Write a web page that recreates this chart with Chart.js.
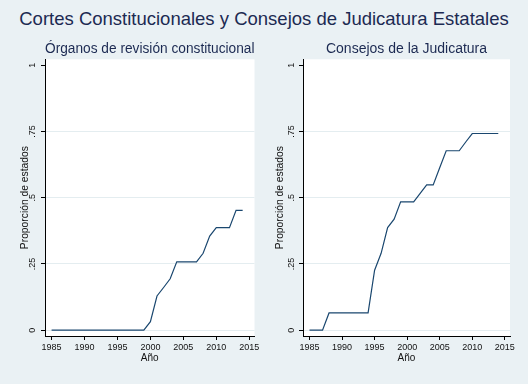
<!DOCTYPE html>
<html>
<head>
<meta charset="utf-8">
<script src="https://cdn.jsdelivr.net/npm/chart.js@4.4.0/dist/chart.umd.min.js"></script>
<style>
  body { margin: 0; background: #eaf1f4; width: 528px; height: 384px; overflow: hidden; position: relative; font-family: 'Liberation Sans', Arial, sans-serif; }
  #title { position: absolute; left: 0; top: 10px; width: 528px; text-align: center; font-size: 18.5px; line-height: 18px; color: #1c2a52; white-space: nowrap; }
  canvas { position: absolute; top: 0; }
</style>
</head>
<body>
<div id="title">Cortes Constitucionales y Consejos de Judicatura Estatales</div>
<canvas id="left" width="264" height="384" style="left:0"></canvas>
<canvas id="right" width="264" height="384" style="left:264px"></canvas>
<script>
const years = [1985, 1986, 1987, 1988, 1989, 1990, 1991, 1992, 1993, 1994,
               1995, 1996, 1997, 1998, 1999, 2000, 2001, 2002, 2003, 2004,
               2005, 2006, 2007, 2008, 2009, 2010, 2011, 2012, 2013, 2014];

// proporcion de estados con organo de revision constitucional
const organos = [0, 0, 0, 0, 0, 0, 0, 0, 0, 0,
                 0, 0, 0, 0, 0, 0.032, 0.129, 0.161, 0.194, 0.258,
                 0.258, 0.258, 0.258, 0.290, 0.355, 0.387, 0.387, 0.387, 0.452, 0.452];

// proporcion de estados con consejo de la judicatura
const consejos = [0, 0, 0, 0.065, 0.065, 0.065, 0.065, 0.065, 0.065, 0.065,
                  0.226, 0.290, 0.387, 0.419, 0.484, 0.484, 0.484, 0.516, 0.548, 0.548,
                  0.613, 0.677, 0.677, 0.677, 0.710, 0.742, 0.742, 0.742, 0.742, 0.742];

const panel_titles = ['Órganos de revisión constitucional', 'Consejos de la Judicatura'];
const x_ticks = [1985, 1990, 1995, 2000, 2005, 2010, 2015];
const y_ticks = [0, 0.25, 0.5, 0.75, 1];
const y_tick_labels = ['0', '.25', '.5', '.75', '1'];
const x_title = 'Año';
const y_title = 'Proporción de estados';

const navy = '#1a476f';
const text_navy = '#1c2a52';
const grid_col = '#e4edf0';
const font = 'Liberation Sans';

// white plot region like stata
const plotBg = {
    id: 'plotBg',
    beforeDraw(chart) {
        const a = chart.chartArea;
        chart.ctx.save();
        chart.ctx.fillStyle = '#ffffff';
        chart.ctx.fillRect(a.left, a.top, a.right - a.left, a.bottom - a.top);
        chart.ctx.restore();
    }
};

function make_panel(id, title, values, axis_w, pad_right, tick_pad, ytitle_pad) {
    const points = years.map((y, i) => ({x: y, y: values[i]}));
    return new Chart(document.getElementById(id), {
        type: 'line',
        data: {
            datasets: [{
                data: points,
                borderColor: navy,
                borderWidth: 1.2,
                pointRadius: 0,
                tension: 0,
                fill: false
            }]
        },
        options: {
            responsive: false,
            animation: false,
            layout: {padding: {top: 0, left: 0, right: pad_right, bottom: 0}},
            plugins: {
                legend: {display: false},
                tooltip: {enabled: false},
                title: {
                    display: true,
                    text: title,
                    fullSize: false,
                    color: text_navy,
                    font: {family: font, size: 14, weight: 'normal'},
                    padding: {top: 41.1, bottom: 1.4}
                }
            },
            scales: {
                x: {
                    type: 'linear',
                    min: 1984,
                    max: 2015.8,
                    afterBuildTicks: s => { s.ticks = x_ticks.map(v => ({value: v})); },
                    afterFit: s => { s.height = 48; },
                    border: {display: true, color: '#000', width: 1},
                    grid: {drawOnChartArea: false, drawTicks: true, tickLength: 4, tickColor: '#000'},
                    ticks: {
                        color: '#111',
                        font: {family: font, size: 9},
                        padding: 2.5,
                        maxRotation: 0,
                        autoSkip: false,
                        callback: v => String(v)
                    },
                    title: {
                        display: true,
                        text: x_title,
                        color: '#111',
                        font: {family: font, size: 10},
                        padding: {top: 0, bottom: 20}
                    }
                },
                y: {
                    type: 'linear',
                    min: -0.022,
                    max: 1.022,
                    afterBuildTicks: s => { s.ticks = y_ticks.map(v => ({value: v})); },
                    afterFit: s => { s.width = axis_w; },
                    border: {display: true, color: '#000', width: 1},
                    grid: {
                        drawOnChartArea: true,
                        drawTicks: true,
                        tickLength: 4,
                        tickColor: '#000',
                        color: c => (c.tick && c.tick.value === 1) ? 'rgba(0,0,0,0)' : grid_col
                    },
                    ticks: {
                        color: '#111',
                        font: {family: font, size: 9},
                        padding: tick_pad,
                        minRotation: 90,
                        maxRotation: 90,
                        crossAlign: 'center',
                        autoSkip: false,
                        callback: (v, i) => y_tick_labels[i]
                    },
                    title: {
                        display: true,
                        text: y_title,
                        color: '#111',
                        font: {family: font, size: 10.3},
                        padding: {top: ytitle_pad, bottom: 0}
                    }
                }
            }
        },
        plugins: [plotBg]
    });
}

make_panel('left', panel_titles[0], organos, 45, 9.5, 2.5, 19);
make_panel('right', panel_titles[1], consejos, 39, 18, 1.2, 10);
</script>
</body>
</html>
